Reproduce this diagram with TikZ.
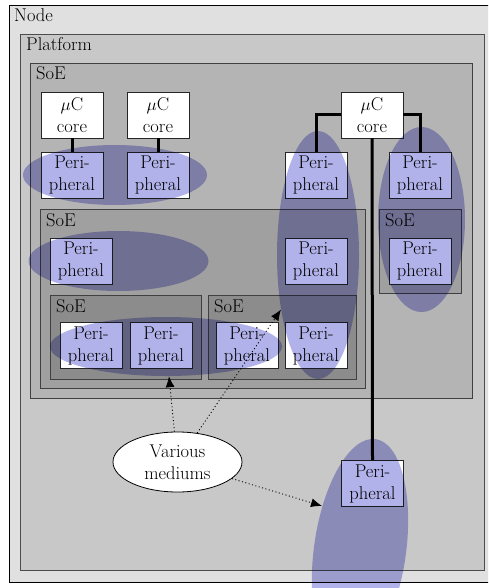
\documentclass[tikz,border=0pt]{standalone}
\usetikzlibrary{shapes.geometric,arrows.meta}
\definecolor{nodebg}{RGB}{224,224,224}
\definecolor{platbg}{RGB}{200,200,200}
\definecolor{soeA}{RGB}{180,180,180}
\definecolor{soeB}{RGB}{160,160,160}
\definecolor{soeC}{RGB}{140,140,140}
\definecolor{blobc}{RGB}{178,178,234}
\begin{document}
\begin{tikzpicture}[x=1pt,y=-1pt,
 font=\fontsize{18.5}{22}\selectfont,
 box/.style={draw=black!85, line width=0.8pt, fill=white, minimum width=62pt, minimum height=46pt, inner sep=0pt, align=center},
 cont/.style={draw=black!75, line width=0.8pt, anchor=north west, inner sep=0pt},
 lab/.style={anchor=base west, inner sep=0pt},
 wire/.style={line width=3pt},
 blob/.style={ellipse, fill=blobc, inner sep=0pt},
 medium/.style={ellipse, draw, fill=white, line width=0.8pt, minimum width=129pt, minimum height=60pt, inner sep=0pt, align=center},
 link/.style={line width=0.9pt, dash pattern=on 1pt off 2.5pt, -{Latex[length=11pt,width=9pt]}}
]
\useasboundingbox (0,0) rectangle (488,588);
\clip (0,0) rectangle (488,588);

% containers
\node[cont, draw=black, fill=nodebg, minimum width=486pt, minimum height=577pt] (nodebox) at (9,5) {};
\node[lab] (nodelab) at (14,22) {Node};
\node[cont, fill=platbg, minimum width=464pt, minimum height=536pt, line width=1pt, draw=black!70] (plat) at (20,34) {};
\node[lab] (platlab) at (26,51) {Platform};
\node[cont, fill=soeA, minimum width=442pt, minimum height=335pt] (soe1) at (30,63) {};
\node[lab] (soe1lab) at (36,80) {SoE};
\node[cont, fill=soeB, minimum width=325pt, minimum height=179pt] (soe2) at (40,209) {};
\node[lab] (soe2lab) at (46,226) {SoE};
\node[cont, fill=soeC, minimum width=151pt, minimum height=84pt] (soe3) at (50,295) {};
\node[lab] (soe3lab) at (56,312) {SoE};
\node[cont, fill=soeC, minimum width=148pt, minimum height=84pt] (soe4) at (208,295) {};
\node[lab] (soe4lab) at (214,312) {SoE};
\node[cont, fill=soeB, minimum width=82pt, minimum height=84pt] (soe5) at (379,209) {};
\node[lab] (soe5lab) at (385,226) {SoE};

% cores
\node[box] (c1) at (72,115) {$\mu$C\\core};
\node[box] (c2) at (158,115) {$\mu$C\\core};
\node[box] (c3) at (372,115) {$\mu$C\\core};

% peripherals
\node[box] (p1) at (72,175) {Peri-\\pheral};
\node[box] (p2) at (158,175) {Peri-\\pheral};
\node[box] (p3) at (316,175) {Peri-\\pheral};
\node[box] (p4) at (420,175) {Peri-\\pheral};
\node[box] (p5) at (81,261) {Peri-\\pheral};
\node[box] (p6) at (316,261) {Peri-\\pheral};
\node[box] (p7) at (420,261) {Peri-\\pheral};
\node[box] (p8) at (91,345.5) {Peri-\\pheral};
\node[box] (p9) at (161,345.5) {Peri-\\pheral};
\node[box] (p10) at (247,345.5) {Peri-\\pheral};
\node[box] (p11) at (316,345.5) {Peri-\\pheral};
\node[box] (p12) at (372.5,483.5) {Peri-\\pheral};

% wires
\draw[wire] (c1.south) -- (p1.north);
\draw[wire] (c2.south) -- (p2.north);
\draw[wire] (c3.west) -| (p3.north);
\draw[wire] (c3.east) -| (p4.north);
\draw[wire] (c3.south) -- (p12.north);

% blobs
\begin{scope}[blend mode=multiply]
\node[blob, minimum width=184pt, minimum height=60pt] (e1) at (115,175) {};
\node[blob, minimum width=180pt, minimum height=60pt] (e2) at (118.5,261) {};
\node[blob, minimum width=232pt, minimum height=59pt] (e3) at (166,346.5) {};
\node[blob, minimum width=82pt, minimum height=248pt] (e4) at (318,255) {};
\node[blob, minimum width=87pt, minimum height=185pt] (e5) at (421.5,219.5) {};
\node[blob, minimum width=92pt, minimum height=224pt, rotate=-8] (e6) at (360,550) {};
\end{scope}

% mediums
\node[medium] (med) at (177.5,462) {Various\\mediums};
\coordinate (t6) at (322,506);
\draw[link] (med) -- (e3);
\draw[link] (med) -- (e4);
\draw[link] (med) -- (t6);
\end{tikzpicture}
\end{document}
